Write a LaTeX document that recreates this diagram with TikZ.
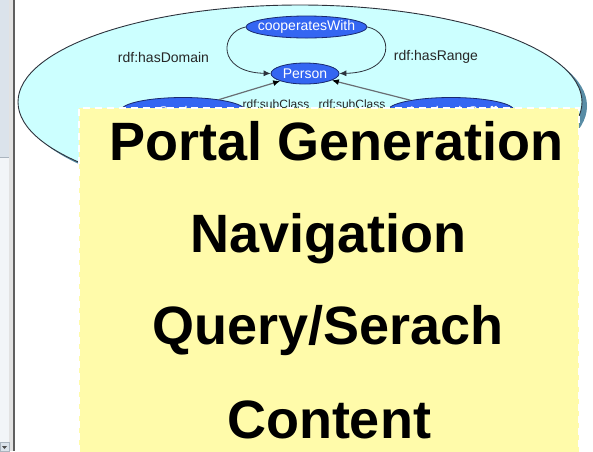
\documentclass[tikz,border=0pt]{standalone}
\usepackage{fontspec}
\setmainfont{Liberation Sans}
\usetikzlibrary{arrows.meta,shapes.geometric}
\definecolor{panelA}{RGB}{219,227,235}
\definecolor{panelB}{RGB}{242,245,248}
\definecolor{panelLine}{RGB}{170,180,190}
\definecolor{panelGrey}{RGB}{226,226,226}
\definecolor{panelDark}{RGB}{95,95,95}
\definecolor{ovalFill}{RGB}{204,255,255}
\definecolor{ovalShadow}{RGB}{88,140,165}
\definecolor{ovalEdge}{RGB}{45,50,60}
\definecolor{nodeBlue}{RGB}{52,102,242}
\definecolor{nodeEdge}{RGB}{25,40,110}
\definecolor{subGrey}{RGB}{105,110,115}
\definecolor{noteYellow}{RGB}{255,251,170}
\begin{document}
\begin{tikzpicture}[x=1pt,y=-1pt,
  cls/.style={ellipse, fill=nodeBlue, draw=nodeEdge, line width=0.8pt, inner sep=0pt},
  clstext/.style={text=white, inner sep=0pt, font=\fontsize{14}{16}\selectfont},
  lbl/.style={text=black!85, inner sep=0pt, font=\fontsize{14}{16}\selectfont},
  sublbl/.style={text=black!85, inner sep=0pt, font=\fontsize{12}{14}\selectfont},
  rel/.style={draw=ovalEdge, line width=0.8pt, -{Latex[length=7pt,width=6pt]}},
  subrel/.style={draw=subGrey, line width=1.2pt, -{Latex[length=7pt,width=6pt,color=black]}},
  bigtext/.style={inner sep=0pt, anchor=base, font=\fontsize{54}{60}\bfseries\selectfont}]
\useasboundingbox (0,0) rectangle (593,451);
% left window panel
\fill[panelA] (0,0) rectangle (9,157);
\fill[panelB] (0,157) rectangle (9,451);
\draw[panelLine, line width=0.8pt] (0,157) -- (9,157);
\draw[panelLine, line width=0.8pt] (9,0) -- (9,451);
\fill[panelGrey] (9.4,0) rectangle (13,451);
\fill[panelDark] (13,0) rectangle (15,451);
\filldraw[fill=panelA, draw=panelLine, line width=0.6pt] (0,442) rectangle (9,451);
\fill[black!70] (2,446) -- (7,446) -- (4.5,449) -- cycle;
% big oval with shadow
\fill[ovalShadow] (305,106) ellipse [x radius=282pt, y radius=97pt];
\filldraw[fill=ovalFill, draw=ovalEdge, line width=0.9pt] (300,102) ellipse [x radius=282pt, y radius=97pt];
% class nodes
\node[cls, minimum width=121pt, minimum height=22pt] (coop) at (306.5,27) {};
\node[clstext] (cooptext) at (coop) {cooperatesWith};
\node[cls, minimum width=68pt, minimum height=21pt] (person) at (305,73.5) {};
\node[clstext] (persontext) at (person) {Person};
\node[cls, minimum width=124pt, minimum height=26pt] (stud) at (183,110.5) {};
\node[clstext] (studtext) at (183,111.5) {Student};
\node[cls, minimum width=126pt, minimum height=26pt] (staff) at (451,110.5) {};
\node[clstext] (stafftext) at (452,111.5) {AcademicStaff};
% relations
\draw[rel] (coop.west) .. controls (220,32) and (216,72) .. (person.west);
\draw[rel] (coop.east) .. controls (393,32) and (397,72) .. (person.east);
\draw[subrel] (stud) -- (person);
\draw[subrel] (staff) -- (person);
% labels
\node[lbl] (dom) at (163.5,57) {rdf:hasDomain};
\node[lbl] (rng) at (436,57) {rdf:hasRange};
\node[sublbl] (sub1) at (276,104) {rdf:subClass};
\node[sublbl] (sub2) at (352,104) {rdf:subClass};
% yellow note
\fill[noteYellow] (79,108) rectangle (579,452);
\draw[white, line width=1.6pt, dash pattern=on 7pt off 5pt] (79,452) -- (79,108) -- (579,108) -- (579,452);
\node[bigtext] (t1) at (336.5,160.5) {Portal Generation};
\node[bigtext] (t2) at (328.5,252.5) {Navigation};
\node[bigtext] (t3) at (328,344) {Query/Serach};
\node[bigtext] (t4) at (329,438.5) {Content};
\end{tikzpicture}
\end{document}
